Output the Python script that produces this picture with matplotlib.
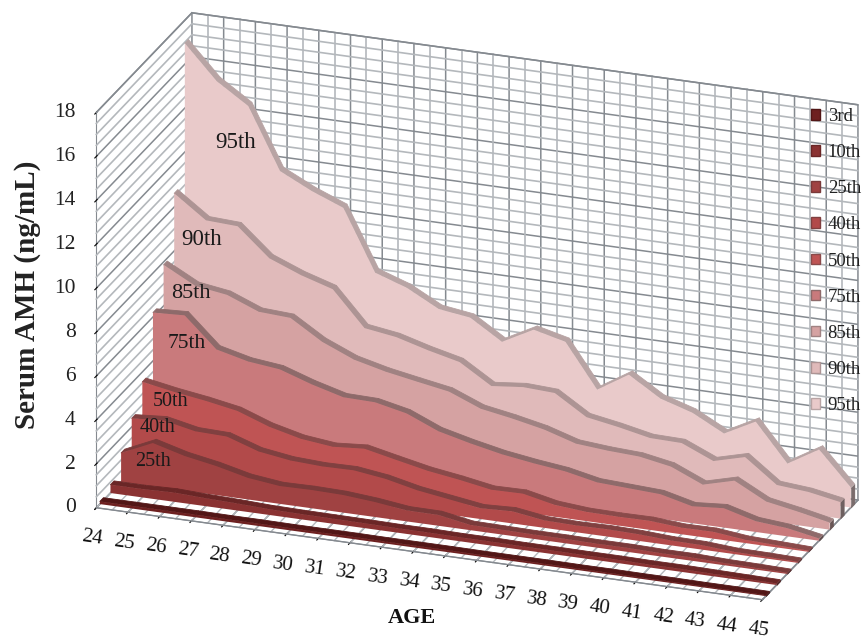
import matplotlib
matplotlib.use("Agg")
import matplotlib.pyplot as plt
from matplotlib.patches import Patch
from mpl_toolkits.mplot3d.art3d import Poly3DCollection
from mpl_toolkits.mplot3d import proj3d
import numpy as np

plt.rcParams['font.family'] = ['Liberation Serif', 'DejaVu Serif']

ages = list(range(24, 46))
series_names = ["3rd", "10th", "25th", "40th", "50th", "75th", "85th", "90th", "95th"]

p3 = [.12, .12, .12, .12, .11, .11, .10, .10, .10, .09, .09, .09, .08, .08, .08, .07, .07, .06, .06, .05, .05, .04]
p10 = [.38, .38, .42, .36, .32, .26, .24, .23, .22, .20, .20, .18, .18, .16, .16, .15, .15, .13, .13, .11, .09, .07]
p25 = [1.32, 1.97, 1.58, 1.32, .98, .81, .83, .80, .68, .50, .49, .24, .22, .20, .20, .18, .18, .15, .15, .10, .08, .05]
p40 = [2.39, 2.50, 2.20, 2.16, 1.68, 1.47, 1.40, 1.42, 1.23, .91, .70, .49, .55, .34, .31, .33, .30, .22, .20, .10, .08, .05]
p50 = [3.55, 3.29, 3.08, 2.82, 2.30, 1.95, 1.79, 1.90, 1.59, 1.29, 1.08, .83, .85, .54, .42, .40, .41, .30, .31, .15, .10, .05]
p75 = [6.20, 6.27, 4.92, 4.57, 4.41, 3.93, 3.54, 3.51, 3.20, 2.59, 2.24, 1.94, 1.73, 1.56, 1.26, 1.19, 1.12, .77, .88, .49, .37, .10]
p85 = [7.87, 7.11, 6.90, 6.33, 6.25, 5.36, 4.75, 4.40, 4.14, 3.89, 3.31, 3.06, 2.76, 2.32, 2.20, 2.13, 1.87, 1.25, 1.63, .88, .62, .32]
p90 = [10.62, 9.59, 9.52, 8.26, 7.69, 7.25, 5.68, 5.47, 5.07, 4.73, 3.84, 3.99, 3.92, 3.02, 2.77, 2.47, 2.44, 1.82, 2.20, 1.13, 1.01, .75]
p95 = [16.95, 15.43, 14.49, 11.73, 11.02, 10.45, 7.70, 7.21, 6.45, 6.25, 5.35, 6.10, 5.75, 3.77, 4.65, 3.76, 3.32, 2.57, 3.31, 1.60, 2.44, .91]
all_series = [p3, p10, p25, p40, p50, p75, p85, p90, p95]

face_colors = ["#6e2020", "#8a3232", "#a04242", "#b24a4a", "#bf5454", "#c97a7c", "#d5a2a2", "#e0baba", "#e9caca"]
top_colors = ["#521616", "#6a2626", "#7a3a3a", "#804040", "#8a4a4a", "#8e6a6a", "#a08282", "#ad9494", "#b8a4a4"]
side_colors = ["#3c1010", "#4a1a1a", "#552626", "#5a2c2c", "#603434", "#5e4a4a", "#6a5656", "#6e6060", "#7a6c6c"]

W, H = 864, 639
fig = plt.figure(figsize=(W / 100, H / 100), dpi=100)
ax = fig.add_axes([-.5, -.5, 2, 2], projection='3d', computed_zorder=False)
ax.set_proj_type('ortho')
ax.view_init(elev=22.3, azim=-70)
ax.patch.set_alpha(0)
ax.set_xlim(24, 45, view_margin=0)
ax.set_ylim(0, 9, view_margin=0)
ax.set_zlim(0, 18, view_margin=0)
aspect = (710, 280, 428)
ax.set_box_aspect(aspect, zoom=1.0)

major = "#858a90"
minor = "#b4b8bc"
for axis in (ax.xaxis, ax.yaxis, ax.zaxis):
    axis.set_pane_color((1, 1, 1, 1))
    axis._axinfo['grid'].update(color=major, linewidth=1.1)
    axis.pane.set_edgecolor('white')
ax.grid(True)
ax.set_xticks(ages)
ax.set_xticklabels([str(a) for a in ages], rotation=-8, fontsize=15, color='#111111')
ax.set_yticks([])
zt = list(range(0, 19, 2))
ax.set_zticks(zt)
ax.set_zticklabels([str(t) for t in zt], fontsize=15.5, color='#222222', va='center', ha='right')
ax.zaxis.set_ticks_position('lower')
ax.tick_params(axis='x', pad=11)
ax.tick_params(axis='z', pad=5)
ax.yaxis.line.set_color((1, 1, 1, 0))
ax.xaxis.line.set_color(major)
ax.zaxis.line.set_color(major)

# minor gridlines
half = np.arange(24.5, 45, 1.0)
for a in half:
    ax.plot([a, a], [9, 9], [0, 18], color=minor, lw=1.2, zorder=1)
for a in np.arange(24, 45.01, .5):
    ax.plot([a, a], [0, 9], [0, 0], color=minor, lw=1.0, zorder=1)
for z in np.arange(0, 18.01, .5):
    if z % 2:
        ax.plot([24, 45], [9, 9], [z, z], color=minor, lw=1.2, zorder=1)
        ax.plot([24, 24], [0, 9], [z, z], color=minor, lw=1.2, zorder=1)
for d in (0, 9):
    ax.plot([24, 45], [d, d], [0, 0], color=major, lw=1.0, zorder=1)
ax.plot([45, 45], [0, 9], [0, 0], color=major, lw=1.0, zorder=1)
ax.plot([24, 24], [0, 9], [18, 18], color=major, lw=1.1, zorder=1)
ax.plot([24, 45], [9, 9], [18, 18], color=major, lw=1.1, zorder=1)

# series, back to front
for i in range(len(all_series) - 1, -1, -1):
    v = all_series[i]
    d0 = (i + .33)
    d1 = (i + .67)
    z = 10 + (9 - i) * 3
    front = [(ages[0], d0, 0)] + [(a, d0, y) for a, y in zip(ages, v)] + [(ages[-1], d0, 0)]
    tops = [[(ages[k], d0, v[k]), (ages[k + 1], d0, v[k + 1]), (ages[k + 1], d1, v[k + 1]), (ages[k], d1, v[k])]
            for k in range(len(v) - 1)]
    end = [[(ages[-1], d0, 0), (ages[-1], d0, v[-1]), (ages[-1], d1, v[-1]), (ages[-1], d1, 0)]]
    ax.add_collection3d(Poly3DCollection(end, facecolors=side_colors[i], edgecolors=side_colors[i],
                                         linewidths=.3, shade=False, zorder=z))
    ax.add_collection3d(Poly3DCollection(tops, facecolors=top_colors[i], edgecolors=top_colors[i],
                                         linewidths=.6, shade=False, zorder=z + 1))
    ax.add_collection3d(Poly3DCollection([front], facecolors=face_colors[i], edgecolors='none',
                                         shade=False, zorder=z + 2))

# fit the box to the reference frame
tgt = np.array([[96, 508], [762, 600], [859, 500], [96, 112]], float)
tgt[:, 1] = H - tgt[:, 1]
pts = [(24, 0, 0), (45, 0, 0), (45, 9, 0), (24, 0, 18)]


def screen():
    ax.apply_aspect()
    M = ax.get_proj()
    out = []
    for p in pts:
        x, y, _ = proj3d.proj_transform(*p, M)
        out.append(ax.transData.transform((x, y)))
    return np.array(out)


s = screen()
scale = np.linalg.norm(tgt[1] - tgt[0]) / np.linalg.norm(s[1] - s[0])
ax.set_box_aspect(aspect, zoom=scale)
s = screen()
off = (tgt - s).mean(axis=0)
ax.set_position([-.5 + off[0] / W, -.5 + off[1] / H, 2, 2])

labels = {"95th": (236, 142, 16.5), "90th": (202, 239, 16.5), "85th": (191, 294, 16), "75th": (187, 343, 15.5),
          "50th": (171, 402, 14.5), "40th": (158, 427, 14.5), "25th": (153, 462, 14.5)}
for name, (px, py, fs) in labels.items():
    fig.text(px / W, 1 - py / H, name, ha='center', va='center', fontsize=fs, color='#1a1a1a', zorder=20)

fig.text(28 / W, 1 - 295 / H, "Serum AMH (ng/mL)", rotation=90, ha='center', va='center',
         fontsize=21, fontweight='bold', color='#222222')
fig.text(412 / W, 1 - 618 / H, "AGE", ha='center', va='center', fontsize=16, fontweight='bold', color='#111111')

handles = [Patch(facecolor=face_colors[i], edgecolor=top_colors[i], label=series_names[i]) for i in range(9)]
fig.legend(handles=handles, loc='upper right', bbox_to_anchor=(861 / W, 1 - 108 / H), frameon=False, fontsize=13.5,
           handlelength=.5, handleheight=.5, handletextpad=.4, labelspacing=1.02, borderpad=0, borderaxespad=0,
           labelcolor='#222222')

fig.savefig("out.png", dpi=100)
